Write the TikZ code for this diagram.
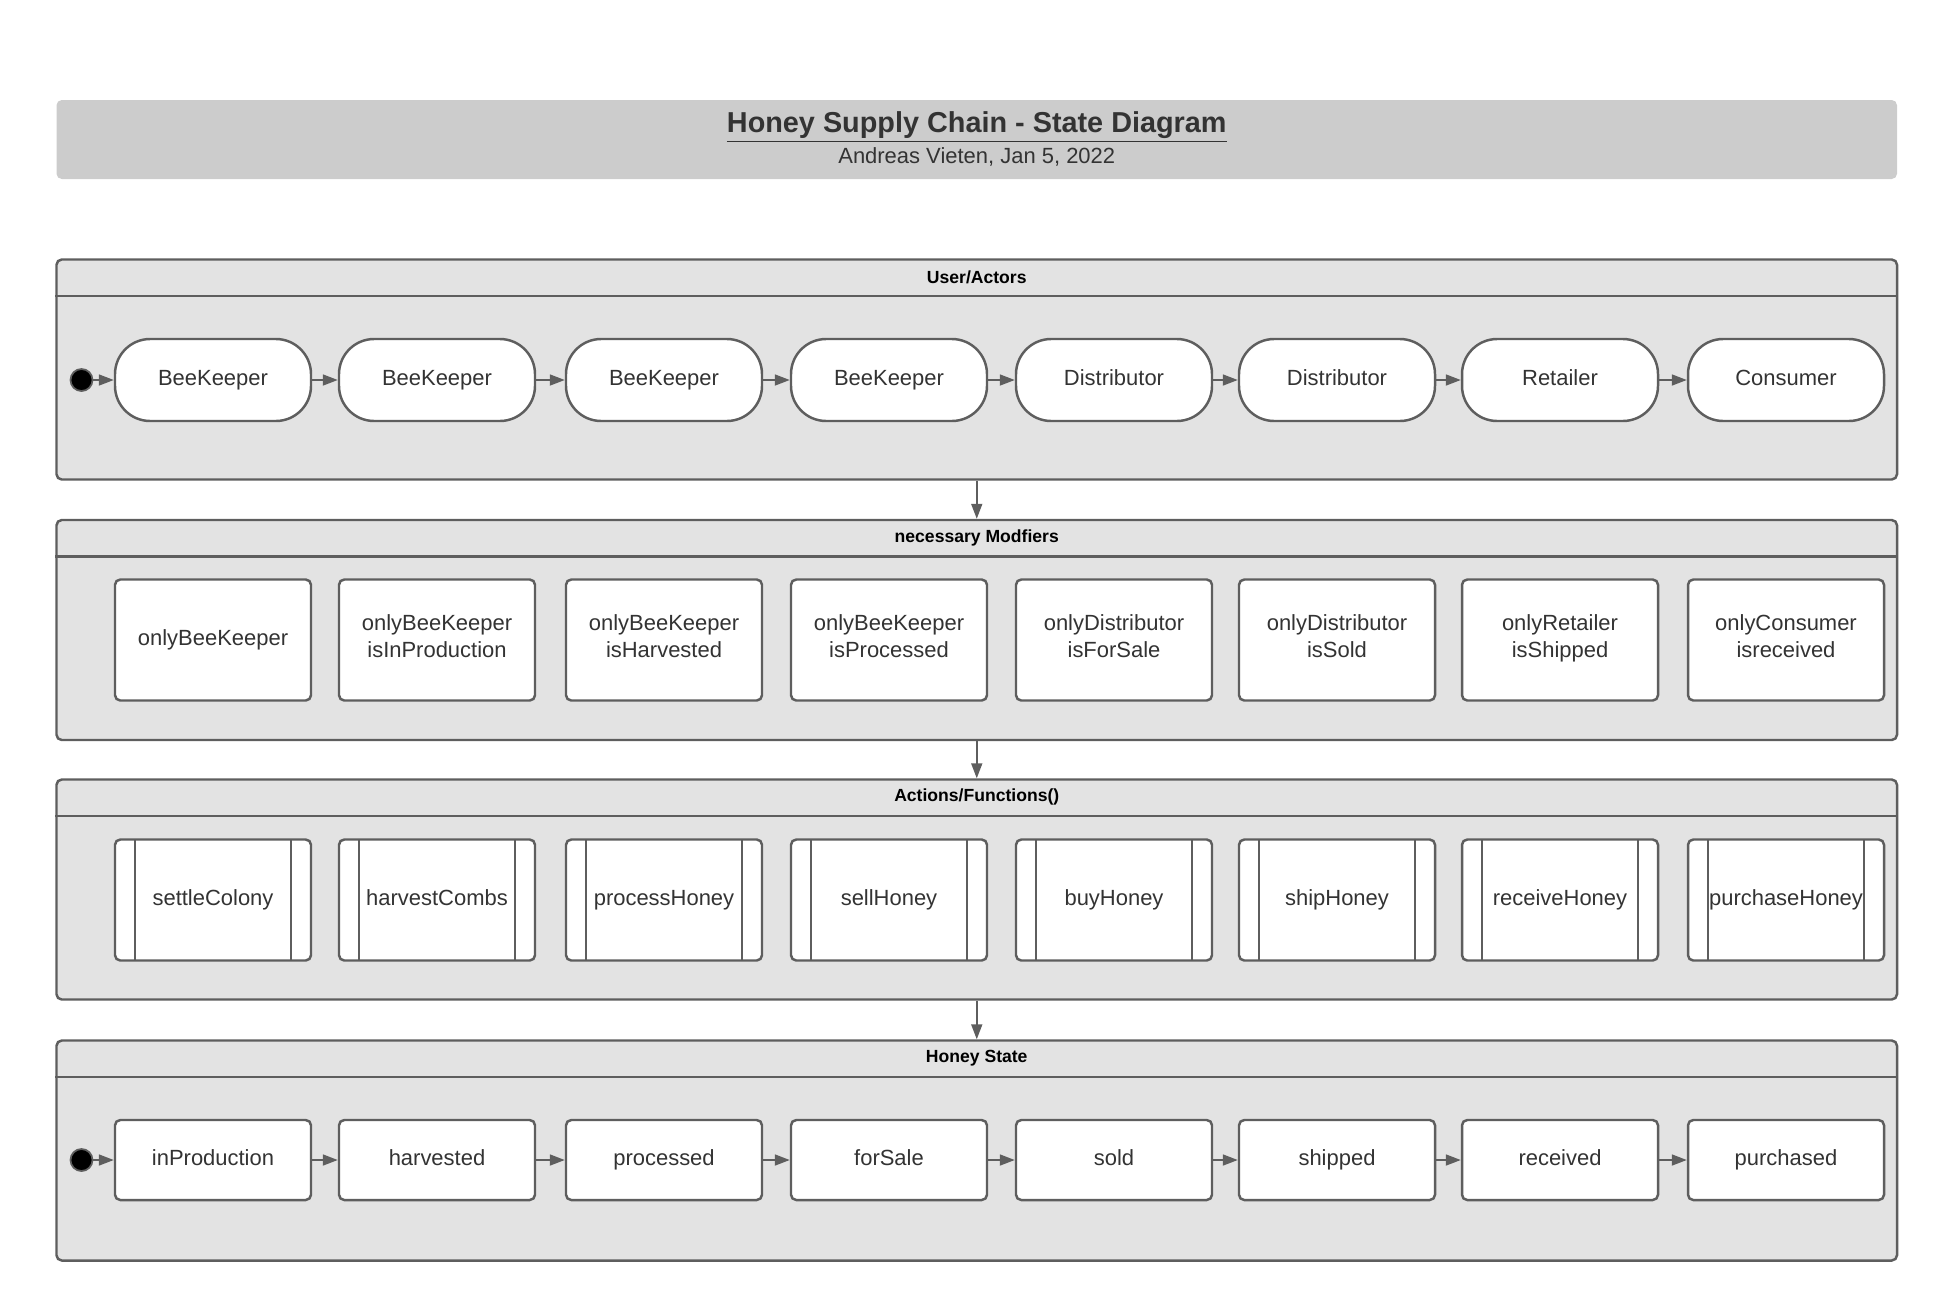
\documentclass[tikz,border=0pt]{standalone}
\usepackage{fontspec}
\setmainfont{Liberation Sans}
\usetikzlibrary{arrows.meta}
\definecolor{linegray}{RGB}{94,94,94}
\definecolor{textgray}{RGB}{51,51,51}
\definecolor{lanefill}{RGB}{227,227,227}
\definecolor{bannerfill}{RGB}{204,204,204}
\begin{document}
\begin{tikzpicture}[>={Triangle[length=0.3cm,width=0.22cm]},
  every node/.style={font=\fontsize{12.5}{15}\selectfont, text=textgray},
  lane/.style={draw=linegray, line width=1.4pt, fill=lanefill, rounded corners=3pt, minimum width=36.81cm, minimum height=4.4cm},
  lanetitle/.style={font=\fontsize{10}{12}\selectfont\bfseries, text=black},
  boxtext/.style={execute at begin node=\strut, execute at end node=\strut},
  actor/.style={boxtext, draw=linegray, line width=1.4pt, fill=white, rounded corners=20pt, minimum width=3.92cm, minimum height=1.64cm},
  modifier/.style={boxtext, draw=linegray, line width=1.4pt, fill=white, rounded corners=3pt, minimum width=3.92cm, minimum height=2.42cm, align=center},
  action/.style={modifier, path picture={\draw[linegray, line width=1.4pt] ([xshift=0.4cm]path picture bounding box.north west) -- ([xshift=0.4cm]path picture bounding box.south west) ([xshift=-0.4cm]path picture bounding box.north east) -- ([xshift=-0.4cm]path picture bounding box.south east);}},
  hstate/.style={boxtext, draw=linegray, line width=1.4pt, fill=white, rounded corners=3pt, minimum width=3.92cm, minimum height=1.6cm},
  initial/.style={circle, draw=linegray, line width=1pt, fill=black, minimum size=0.44cm, inner sep=0pt},
  flow/.style={->, draw=linegray, fill=linegray, line width=1pt}]
\useasboundingbox (0,0) rectangle (38.74,-26);

% title banner
\node[fill=bannerfill, rounded corners=3pt, minimum width=36.81cm, minimum height=1.58cm] (banner) at (19.535,-2.79) {};
\node[font=\fontsize{16.4}{19}\selectfont\bfseries] (title) at (19.535,-2.54) {\underline{Honey Supply Chain - State Diagram}};
\node (author) at (19.535,-3.13) {Andreas Vieten, Jan 5, 2022};

% swimlanes
\node[lane] (lane1) at (19.535,-7.39) {};
\node[lane] (lane2) at (19.535,-12.6) {};
\node[lane] (lane3) at (19.535,-17.79) {};
\node[lane] (lane4) at (19.535,-23.01) {};
\draw[linegray, line width=1.4pt] ([yshift=-0.75cm]lane1.north west) -- ([yshift=-0.75cm]lane1.north east);
\draw[linegray, line width=1.4pt] ([yshift=-0.75cm]lane2.north west) -- ([yshift=-0.75cm]lane2.north east);
\draw[linegray, line width=1.4pt] ([yshift=-0.75cm]lane3.north west) -- ([yshift=-0.75cm]lane3.north east);
\draw[linegray, line width=1.4pt] ([yshift=-0.75cm]lane4.north west) -- ([yshift=-0.75cm]lane4.north east);
\node[lanetitle] (t1) at ([yshift=-0.38cm]lane1.north) {User/Actors};
\node[lanetitle] (t2) at ([yshift=-0.38cm]lane2.north) {necessary Modfiers};
\node[lanetitle] (t3) at ([yshift=-0.38cm]lane3.north) {Actions/Functions()};
\node[lanetitle] (t4) at ([yshift=-0.38cm]lane4.north) {Honey State};
\draw[flow] (lane1) -- (lane2);
\draw[flow] (lane2) -- (lane3);
\draw[flow] (lane3) -- (lane4);

% actors
\node[initial] (start1) at (1.63,-7.6) {};
\node[actor] (a1) at (4.26,-7.6) {BeeKeeper};
\node[actor] (a2) at (8.74,-7.6) {BeeKeeper};
\node[actor] (a3) at (13.28,-7.6) {BeeKeeper};
\node[actor] (a4) at (17.78,-7.6) {BeeKeeper};
\node[actor] (a5) at (22.28,-7.6) {Distributor};
\node[actor] (a6) at (26.74,-7.6) {Distributor};
\node[actor] (a7) at (31.20,-7.6) {Retailer};
\node[actor] (a8) at (35.72,-7.6) {Consumer};
\draw[flow] (start1) -- (a1);
\draw[flow] (a1) -- (a2);
\draw[flow] (a2) -- (a3);
\draw[flow] (a3) -- (a4);
\draw[flow] (a4) -- (a5);
\draw[flow] (a5) -- (a6);
\draw[flow] (a6) -- (a7);
\draw[flow] (a7) -- (a8);

% modifiers
\node[modifier] (m1) at (4.26,-12.8) {onlyBeeKeeper};
\node[modifier] (m2) at (8.74,-12.8) {onlyBeeKeeper\\isInProduction};
\node[modifier] (m3) at (13.28,-12.8) {onlyBeeKeeper\\isHarvested};
\node[modifier] (m4) at (17.78,-12.8) {onlyBeeKeeper\\isProcessed};
\node[modifier] (m5) at (22.28,-12.8) {onlyDistributor\\isForSale};
\node[modifier] (m6) at (26.74,-12.8) {onlyDistributor\\isSold};
\node[modifier] (m7) at (31.20,-12.8) {onlyRetailer\\isShipped};
\node[modifier] (m8) at (35.72,-12.8) {onlyConsumer\\isreceived};

% functions
\node[action] (f1) at (4.26,-18.0) {settleColony};
\node[action] (f2) at (8.74,-18.0) {harvestCombs};
\node[action] (f3) at (13.28,-18.0) {processHoney};
\node[action] (f4) at (17.78,-18.0) {sellHoney};
\node[action] (f5) at (22.28,-18.0) {buyHoney};
\node[action] (f6) at (26.74,-18.0) {shipHoney};
\node[action] (f7) at (31.20,-18.0) {receiveHoney};
\node[action] (f8) at (35.72,-18.0) {purchaseHoney};

% honey states
\node[initial] (start2) at (1.63,-23.2) {};
\node[hstate] (s1) at (4.26,-23.2) {inProduction};
\node[hstate] (s2) at (8.74,-23.2) {harvested};
\node[hstate] (s3) at (13.28,-23.2) {processed};
\node[hstate] (s4) at (17.78,-23.2) {forSale};
\node[hstate] (s5) at (22.28,-23.2) {sold};
\node[hstate] (s6) at (26.74,-23.2) {shipped};
\node[hstate] (s7) at (31.20,-23.2) {received};
\node[hstate] (s8) at (35.72,-23.2) {purchased};
\draw[flow] (start2) -- (s1);
\draw[flow] (s1) -- (s2);
\draw[flow] (s2) -- (s3);
\draw[flow] (s3) -- (s4);
\draw[flow] (s4) -- (s5);
\draw[flow] (s5) -- (s6);
\draw[flow] (s6) -- (s7);
\draw[flow] (s7) -- (s8);
\end{tikzpicture}
\end{document}
